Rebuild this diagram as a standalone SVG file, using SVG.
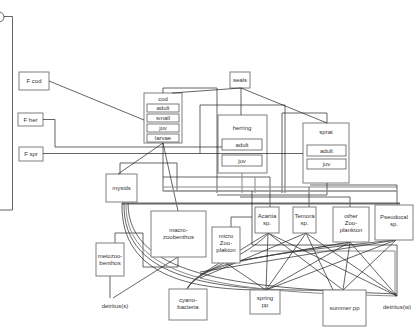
<svg xmlns="http://www.w3.org/2000/svg" width="414" height="327" viewBox="0 0 414 327">
<style>
.b{fill:#fff;stroke:#7f7f7f;stroke-width:1}
.ib{fill:#fff;stroke:#5a5a5a;stroke-width:0.8}
.t{font-family:"Liberation Sans",Arial,sans-serif;font-size:6px;fill:#333;text-anchor:middle}
.c{fill:none;stroke:#222;stroke-width:0.7}
.g{fill:none;stroke:#8a8a8a;stroke-width:1}
.k{fill:none;stroke:#666;stroke-width:2}
</style>
<rect width="414" height="327" fill="#fff"/>
<g id="nodes">
<g id="fcod"><rect class="b" x="19" y="72" width="30" height="18"/><text class="t" x="34" y="83">F cod</text></g>
<g id="fher"><rect class="b" x="18" y="113" width="25" height="13"/><text class="t" x="30.5" y="121.5">F her</text></g>
<g id="fspr"><rect class="b" x="19" y="147" width="24" height="14"/><text class="t" x="31" y="156">F spr</text></g>
<g id="seals"><rect class="b" x="230" y="72" width="20" height="16"/><text class="t" x="240" y="82">seals</text></g>
<g id="cod"><rect class="b" x="144" y="93" width="38" height="50"/><text class="t" x="163" y="101">cod</text>
<rect class="ib" x="147" y="104" width="32" height="8"/><text class="t" x="163" y="110">adult</text>
<rect class="ib" x="147" y="114" width="32" height="8"/><text class="t" x="163" y="120">small</text>
<rect class="ib" x="147" y="124" width="32" height="8"/><text class="t" x="163" y="130">juv</text>
<rect class="ib" x="147" y="134" width="32" height="8"/><text class="t" x="163" y="140">larvae</text></g>
<g id="herring"><rect class="b" x="218" y="115" width="49" height="58"/><text class="t" x="242" y="130">herring</text>
<rect class="ib" x="222" y="139" width="40" height="11"/><text class="t" x="242" y="146.5">adult</text>
<rect class="ib" x="222" y="155" width="40" height="11"/><text class="t" x="242" y="162.5">juv</text></g>
<g id="sprat"><rect class="b" x="303" y="123" width="46" height="60"/><text class="t" x="326" y="134">sprat</text>
<rect class="ib" x="307" y="145" width="39" height="11"/><text class="t" x="326.5" y="152.5">adult</text>
<rect class="ib" x="307" y="159" width="39" height="10"/><text class="t" x="326.5" y="166">juv</text></g>
<g id="mysids"><rect class="b" x="106" y="174" width="31" height="28"/><text class="t" x="121.5" y="190">mysids</text></g>
</g>
<g id="connectors">
<circle class="c" cx="-1" cy="17" r="5"/>
<path class="c" d="M4,16.5 H12.5 V210 H0"/>
<path class="c" d="M49,81 L144,120"/>
<path class="c" d="M43,119.5 H55 V147 H222"/>
<path class="c" d="M43,153.5 H303"/>
<path class="c" d="M200,153.5 V105 H285 V193"/>
<path class="c" d="M327,123 V113 H282 V193"/>
<path class="c" d="M241,88 L172,93 M241,88 V115 M241,88 L327,123"/>
<path class="c" d="M163,93 V88 H217 V193"/>
<path class="c" d="M120,174 V163 H177 V191"/>
<path class="c" d="M118,174 L163,143 L178,211 M163,143 V191"/>
<path class="c" d="M163,177 H270 V207"/>
<path class="g" d="M163,187 H397"/>
<path class="c" d="M309,187 V207"/>
<path class="c" d="M327,183 V195 H217"/>
<path class="c" d="M310,185 H397 V205"/>
<path class="g" d="M163,191 H397" style="stroke-width:1.6"/>
<path class="c" d="M350,207 V197 H240"/>
<path class="g" d="M242,173 V193 M255,177 V193"/>
<path class="k" d="M122,203.5 H400"/>
<path class="c" d="M231,227 V217 H252 V191 M252,217 V245 H397 V296"/>
<path class="g" d="M250,251 H395 V296"/>
<path class="c" d="M178,257 L113,298 M110,276 V298"/>
<path class="c" d="M115,243 V233 H143 V267 H178 V257"/>
<path class="c" d="M122,203 C120,280 200,290 265,290"/>
<path class="c" d="M124,203 C122,282 220,292 340,290"/>
<path class="g" d="M126,203 C124,284 240,292 397,296"/>
<path class="c" d="M128,203 C128,280 250,288 397,294"/>
<path class="c" d="M187,289 C200,262 260,255 394,240"/>
<path class="g" d="M187,289 C202,265 250,258 351,242"/>
<path class="c" d="M187,289 C200,268 240,262 269,233"/>
<path class="c" d="M268,233 L266,290 M268,233 L200,275 M268,233 L343,290 M268,233 L397,296"/>
<path class="c" d="M306,233 L266,290 M306,233 L200,278 M306,233 L333,290 M306,233 L397,296"/>
<path class="c" d="M350,242 L266,290 M350,242 L343,290 M350,242 L397,296 M350,242 L226,263"/>
<path class="c" d="M396,240 L266,290 M396,240 L343,290 M396,240 L200,272"/>
<path class="c" d="M226,263 L266,290"/>
</g>
<g id="nodes2">
<g id="macro"><rect class="b" x="151" y="211" width="55" height="46"/><text class="t" x="178.5" y="232">macro-</text><text class="t" x="178.5" y="239">zoobenthos</text></g>
<g id="meio"><rect class="b" x="96" y="243" width="28" height="33"/><text class="t" x="110" y="258">meiozoo-</text><text class="t" x="110" y="265">benthos</text></g>
<g id="micro"><rect class="b" x="212" y="227" width="28" height="36"/><text class="t" x="226" y="238">micro</text><text class="t" x="226" y="245">Zoo-</text><text class="t" x="226" y="252">plakton</text></g>
<g id="acartia"><rect class="b" x="255" y="207" width="24" height="26"/><text class="t" x="267" y="218">Acartia</text><text class="t" x="267" y="225">sp.</text></g>
<g id="temora"><rect class="b" x="293" y="207" width="23" height="26"/><text class="t" x="304.5" y="218">Temora</text><text class="t" x="304.5" y="225">sp.</text></g>
<g id="otherzoo"><rect class="b" x="333" y="207" width="36" height="35"/><text class="t" x="351" y="218">other</text><text class="t" x="351" y="225">Zoo-</text><text class="t" x="351" y="232">plankton</text></g>
<g id="pseudocal"><rect class="b" x="375" y="205" width="38" height="35"/><text class="t" x="394" y="219">Pseudocal</text><text class="t" x="394" y="226">sp.</text></g>
<g id="springpp"><rect class="b" x="250" y="290" width="30" height="24"/><text class="t" x="265" y="300">spring</text><text class="t" x="265" y="307">pp</text></g>
<g id="summerpp"><rect class="b" x="323" y="290" width="43" height="36"/><text class="t" x="344.5" y="310">summer pp</text></g>
<g id="cyano"><rect class="b" x="169" y="289" width="38" height="31"/><text class="t" x="188" y="302">cyano-</text><text class="t" x="188" y="309">bacteria</text></g>
<g id="detrituss"><text class="t" x="115" y="308">detritus(s)</text></g>
<g id="detritusw"><text class="t" x="397" y="309">detritus(w)</text></g>
</g>
</svg>
